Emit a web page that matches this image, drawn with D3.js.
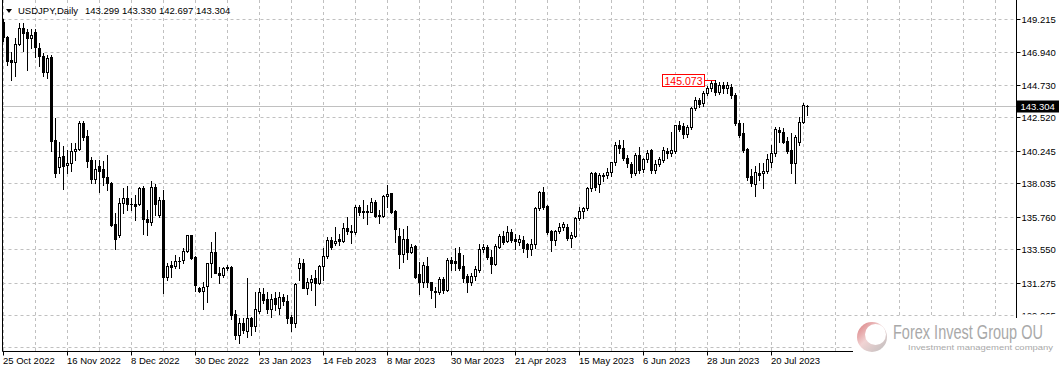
<!DOCTYPE html>
<html><head><meta charset="utf-8">
<script src="https://cdn.jsdelivr.net/npm/d3@7"></script>
<style>
html,body{margin:0;padding:0;background:#fff;}
svg{display:block;font-family:"Liberation Sans",Arial,sans-serif;}
</style></head><body>
<svg id="chart" width="1064" height="372"></svg>
<script>
const symbol = "USDJPY,Daily";
const lastBar = ["143.299","143.330","142.697","143.304"];
const currentPrice = 143.304;
const markedBar = 178;

const opens = [
149.0,147.95,146.4,146.25,147.48,148.57,148.3,147.9,148.3,147.25,
146.68,145.62,146.6,140.97,139.11,139.88,139.25,139.38,140.22,140.34,
142.15,141.24,139.61,138.34,139.2,138.98,138.47,138.07,135.26,134.49,
136.66,137.0,136.6,136.62,136.6,137.68,135.6,135.42,137.75,135.87,
136.89,131.67,132.46,132.4,132.72,132.81,133.44,134.49,133.03,130.88,
130.72,131.04,132.58,133.37,131.94,131.81,132.35,132.35,129.11,127.68,
128.54,128.0,128.84,128.34,129.36,130.5,130.16,129.48,130.24,129.52,
130.31,130.02,128.95,128.54,132.28,132.58,130.92,131.29,131.56,131.22,
132.4,133.08,134.17,133.94,134.24,134.12,135.0,134.78,134.69,136.43,
136.1,136.14,136.09,136.73,135.9,135.82,137.15,137.34,136.14,134.44,
133.2,134.22,133.37,133.76,131.85,131.29,132.4,131.29,130.7,130.6,
131.51,130.77,132.81,132.74,133.26,132.4,131.72,131.29,131.72,132.12,
133.53,133.67,133.03,132.51,133.71,134.44,134.1,134.73,134.24,134.01,
134.17,133.87,133.55,133.87,136.32,137.45,136.48,134.8,134.17,134.8,
135.03,135.03,134.28,134.44,135.63,136.14,136.32,137.68,138.71,137.98,
138.59,138.59,138.81,139.45,140.6,140.41,139.77,139.34,138.71,139.95,
139.0,139.68,140.29,138.93,139.34,139.61,140.24,140.1,140.24,141.99,
141.9,141.35,141.87,143.13,143.69,143.5,144.15,144.49,144.83,144.26,
144.71,144.49,144.55,144.03,142.11,141.42,140.36,138.52,137.98,138.71,
138.71,138.86,139.5,140.06,141.65,141.53,140.9,140.29,139.38,140.85,
142.22,143.299];

const highs = [
149.2,148.05,146.98,147.9,148.9,148.9,148.5,148.5,148.5,147.6,
146.87,146.75,146.75,142.5,140.85,140.58,140.29,140.79,140.79,142.28,
142.28,141.65,139.83,139.61,139.61,139.54,139.95,138.1,135.98,137.0,
137.68,137.84,137.0,137.23,137.8,137.84,136.21,138.18,137.96,137.12,
137.57,132.58,132.76,133.15,133.03,133.6,134.49,134.5,133.1,130.95,
131.33,132.6,134.05,134.73,132.35,132.35,132.46,132.4,129.4,128.84,
128.84,131.6,128.95,130.6,130.92,130.88,130.61,130.5,130.61,130.65,
130.47,130.42,129.06,131.22,132.92,132.88,131.56,131.78,132.12,132.46,
133.6,134.39,134.35,135.07,134.55,135.3,135.75,135.19,136.55,136.55,
136.88,136.55,137.05,136.89,136.21,137.23,137.91,137.38,136.21,135.0,
134.89,135.12,133.87,133.8,132.65,132.65,133.03,131.33,130.99,131.67,
131.67,132.92,132.99,133.6,133.71,133.15,131.85,131.94,132.4,133.87,
133.87,133.83,133.48,133.87,134.58,134.78,135.12,134.89,134.55,134.51,
134.44,133.94,134.22,136.39,137.52,137.79,136.55,134.85,134.85,135.35,
135.41,135.26,134.73,135.75,136.39,136.43,137.75,138.77,138.77,138.75,
138.7,139.05,139.49,140.85,140.97,140.97,139.95,139.49,140.06,140.47,
139.75,140.29,140.35,139.61,139.83,140.47,140.41,141.5,142.0,142.25,
142.1,142.0,143.2,143.9,143.8,144.3,144.65,145.0,145.073,144.9,
144.9,144.9,144.75,144.2,142.3,142.1,140.4,138.98,139.2,139.38,
139.42,140.02,140.63,141.87,141.87,141.76,141.2,141.42,141.31,142.56,
143.51,143.33];

const lows = [
147.7,146.1,145.05,145.35,147.45,147.0,145.75,147.2,146.65,146.0,
145.33,145.17,140.2,138.47,138.75,137.64,138.71,138.88,139.61,140.29,
140.97,139.15,138.02,138.02,137.45,137.91,137.57,135.12,133.55,134.39,
135.98,136.21,136.2,135.53,136.55,134.58,134.51,135.19,135.87,135.75,
130.54,131.44,131.67,132.24,132.24,132.58,133.37,132.85,130.72,130.65,
129.45,129.97,131.67,131.9,131.26,131.67,132.1,128.77,127.41,127.18,
127.82,127.55,127.7,127.95,129.2,129.86,129.18,128.95,129.41,129.14,
129.74,128.5,127.97,128.27,131.44,130.88,130.49,130.77,129.74,131.2,
131.44,132.92,133.55,133.8,133.82,134.0,134.6,133.98,134.6,135.87,
135.68,135.24,136.05,135.75,135.34,135.75,136.43,135.98,134.05,132.25,
132.7,132.9,133.26,131.56,130.49,131.0,130.95,130.2,129.59,130.5,
130.56,130.72,132.12,132.12,132.12,131.33,130.61,131.1,131.44,132.0,
133.37,132.9,131.94,132.46,133.6,133.9,134.0,134.0,133.53,133.8,
133.37,132.99,133.15,133.6,136.2,136.25,134.6,133.44,133.83,134.62,
134.85,134.17,133.71,134.35,135.5,135.64,136.2,137.5,137.6,137.41,
138.18,138.4,138.5,139.3,140.1,139.6,139.15,138.45,138.6,138.71,
138.8,139.5,138.72,138.7,139.2,139.5,139.75,139.9,140.1,141.6,
141.1,141.2,141.7,143.0,143.2,143.3,144.0,144.3,144.0,144.1,
144.2,144.2,143.8,142.0,141.2,140.17,138.25,137.84,137.18,138.25,
137.68,138.7,139.1,139.9,140.85,140.74,140.1,138.75,138.02,140.63,
142.1,142.697];

const closes = [
147.95,146.35,146.25,147.48,148.57,148.25,147.9,148.1,147.3,146.68,
145.62,146.53,140.92,138.75,139.84,139.22,139.43,140.22,140.36,142.15,
141.19,139.56,138.34,139.0,138.88,138.43,138.02,135.19,134.22,136.66,
137.0,136.62,136.62,136.48,137.68,135.58,135.42,137.75,136.6,136.89,
131.67,132.42,132.31,132.72,132.76,133.44,134.49,132.96,131.09,130.72,
130.99,132.58,133.37,131.94,131.81,132.24,132.24,129.07,127.7,128.54,
128.04,128.84,128.34,129.45,130.61,130.09,129.48,130.16,129.79,130.31,
130.04,128.88,128.5,131.18,132.58,130.92,131.29,131.51,131.27,132.4,
133.08,134.17,133.67,134.1,134.12,134.96,134.78,134.69,136.39,136.07,
136.14,136.1,136.73,135.78,135.79,137.18,137.29,136.09,134.91,133.2,
134.22,133.33,133.71,131.67,131.29,132.46,131.33,130.77,130.65,131.49,
130.77,132.81,132.58,132.62,132.24,131.6,131.29,131.72,132.17,133.53,
133.67,133.03,132.51,133.76,134.44,134.05,134.69,134.17,134.1,134.22,
133.64,133.55,133.87,136.32,137.45,136.39,134.69,134.17,134.78,135.03,
135.24,134.28,134.51,135.68,136.14,136.37,137.68,138.71,137.79,138.59,
138.55,138.81,139.45,140.63,140.45,139.77,139.39,138.71,139.95,138.93,
139.65,140.11,138.93,139.34,139.65,140.29,140.06,140.3,141.99,141.75,
141.4,141.87,143.13,143.69,143.42,144.15,144.49,144.83,144.26,144.71,
144.49,144.71,144.03,142.11,141.31,140.29,138.47,138.02,138.77,138.59,
138.86,139.66,140.06,141.7,141.49,140.85,140.24,139.38,141.15,142.22,
143.35,143.304];

const priceTicks = [149.215,146.940,144.730,142.520,140.245,138.035,135.760,133.550,131.275,129.065];
const priceTickLabels = ["149.215","146.940","144.730","142.520","140.245","138.035","135.760","133.550","131.275","129.065"];
const extraGridPrice = [126.855];
const dateLabels = ["25 Oct 2022","16 Nov 2022","8 Dec 2022","30 Dec 2022","23 Jan 2023","14 Feb 2023","8 Mar 2023","30 Mar 2023","21 Apr 2023","15 May 2023","6 Jun 2023","28 Jun 2023","20 Jul 2023"];
const dateLabelBars = [0,16,32,48,64,80,96,112,128,144,160,176,192];

const N = opens.length;
const bars = d3.range(N).map(i => ({i, o: opens[i], h: highs[i], l: lows[i], c: closes[i]}));

const svg = d3.select("#chart");
const W = 1064, H = 372;
const plotLeft = 2.5, plotRight = 1016.5, plotBottom = 351.5;

const x = d3.scaleLinear().domain([0, N - 1]).range([3, 3 + 4 * (N - 1)]);
const y = d3.scaleLinear().domain([129.065, 149.215]).range([315, 18.8]);

svg.append("rect").attr("width", W).attr("height", H).attr("fill", "#fff");

// vertical grid every 8 bars
const gridBars = d3.range(0, 260, 8).filter(b => x(b) < plotRight - 2);
svg.append("g").selectAll("line").data(gridBars).join("line")
  .attr("x1", d => Math.round(x(d)) + 0.5).attr("x2", d => Math.round(x(d)) + 0.5)
  .attr("y1", 0).attr("y2", plotBottom - 0.5)
  .attr("stroke", "#c0c0c0").attr("stroke-width", 1).attr("stroke-dasharray", "3,3");

// horizontal grid
svg.append("g").selectAll("line").data(priceTicks.concat(extraGridPrice)).join("line")
  .attr("x1", plotLeft).attr("x2", plotRight)
  .attr("y1", d => Math.round(y(d)) + 0.5).attr("y2", d => Math.round(y(d)) + 0.5)
  .attr("stroke", "#c0c0c0").attr("stroke-width", 1).attr("stroke-dasharray", "3,3");

// current price line
svg.append("line")
  .attr("x1", plotLeft).attr("x2", plotRight)
  .attr("y1", Math.round(y(currentPrice)) + 0.5).attr("y2", Math.round(y(currentPrice)) + 0.5)
  .attr("stroke", "#c0c0c0").attr("stroke-width", 1);

// candles
const cg = svg.append("g");
bars.forEach(b => {
  const px = Math.round(x(b.i));
  const yh = Math.round(y(Math.max(b.h, b.o, b.c)));
  const yl = Math.round(y(Math.min(b.l, b.o, b.c)));
  const yt = Math.round(y(Math.max(b.o, b.c)));
  const yb = Math.round(y(Math.min(b.o, b.c)));
  cg.append("rect").attr("x", px).attr("y", yh).attr("width", 1).attr("height", Math.max(1, yl - yh + 1)).attr("fill", "#000");
  cg.append("rect").attr("x", px - 1).attr("y", yt).attr("width", 3).attr("height", Math.max(1, yb - yt + 1)).attr("fill", "#000");
  if (b.c > b.o && yb - yt - 1 > 0) {
    cg.append("rect").attr("x", px).attr("y", yt + 1).attr("width", 1).attr("height", yb - yt - 1).attr("fill", "#fff");
  }
});

// high marker label
const markHigh = highs[markedBar];
const hy = Math.round(y(markHigh)) + 0.5;
const hx = Math.round(x(markedBar));
const mk = svg.append("g");
mk.append("line").attr("x1", hx - 10).attr("x2", hx).attr("y1", hy).attr("y2", hy).attr("stroke", "#ff0000");
mk.append("rect").attr("x", hx - 52.5).attr("y", hy - 6).attr("width", 42).attr("height", 12)
  .attr("fill", "#fff").attr("stroke", "#ff0000").attr("stroke-width", 1);
mk.append("text").attr("x", hx - 31.5).attr("y", hy + 4).attr("text-anchor", "middle")
  .attr("font-size", "10.5px").attr("fill", "#ff0000").text(markHigh.toFixed(3));

// frame: left border, right axis, bottom axis
svg.append("line").attr("x1", plotLeft).attr("x2", plotLeft).attr("y1", 0).attr("y2", plotBottom).attr("stroke", "#000");
svg.append("line").attr("x1", plotRight).attr("x2", plotRight).attr("y1", 0).attr("y2", plotBottom).attr("stroke", "#000");
svg.append("line").attr("x1", plotLeft).attr("x2", plotRight).attr("y1", plotBottom).attr("y2", plotBottom).attr("stroke", "#000");

// right axis ticks + labels
const ra = svg.append("g");
ra.selectAll("line").data(priceTicks).join("line")
  .attr("x1", plotRight).attr("x2", plotRight + 4)
  .attr("y1", d => Math.round(y(d)) + 0.5).attr("y2", d => Math.round(y(d)) + 0.5)
  .attr("stroke", "#000");
ra.selectAll("text").data(priceTicks).join("text")
  .attr("x", plotRight + 5).attr("y", d => Math.round(y(d)) + 3.5)
  .attr("font-size", "9.5px").attr("fill", "#000")
  .text((d, k) => priceTickLabels[k]);

// current price box
const cy = Math.round(y(currentPrice)) + 0.5;
svg.append("rect").attr("x", plotRight + 0.5).attr("y", cy - 6).attr("width", 42).attr("height", 12).attr("fill", "#000");
svg.append("text").attr("x", plotRight + 4).attr("y", cy + 3.5).attr("font-size", "9.5px").attr("fill", "#fff").text(currentPrice.toFixed(3));

// bottom axis ticks + labels
const ba = svg.append("g");
ba.selectAll("line").data(dateLabelBars).join("line")
  .attr("x1", d => Math.round(x(d)) + 0.5).attr("x2", d => Math.round(x(d)) + 0.5)
  .attr("y1", plotBottom).attr("y2", plotBottom + 4)
  .attr("stroke", "#000");
ba.selectAll("text").data(dateLabelBars).join("text")
  .attr("x", d => Math.round(x(d))).attr("y", 364)
  .attr("font-size", "9.5px").attr("fill", "#000")
  .text((d, k) => dateLabels[k]);

// title
const tg = svg.append("g");
tg.append("path").attr("d", "M6,9 L12,9 L9,13 Z").attr("fill", "#000");
tg.append("text").attr("x", 18).attr("y", 14).attr("font-size", "9.5px").attr("fill", "#000").text(symbol);
tg.append("text").attr("x", 85).attr("y", 14).attr("font-size", "9.5px").attr("fill", "#000").text(lastBar.join(" "));

// watermark
const wm = svg.append("g");
wm.append("rect").attr("x", 853).attr("y", 318).attr("width", 211).attr("height", 54).attr("fill", "#fff");
wm.append("rect").attr("x", 1017).attr("y", 314.5).attr("width", 47).attr("height", 8).attr("fill", "#fff");
const defs = svg.append("defs");
const lg = defs.append("linearGradient").attr("id", "lg").attr("x1", "0").attr("y1", "0").attr("x2", "1").attr("y2", "1");
lg.append("stop").attr("offset", "0").attr("stop-color", "#d9777a");
lg.append("stop").attr("offset", "0.45").attr("stop-color", "#f1d3d3");
lg.append("stop").attr("offset", "1").attr("stop-color", "#bdbdbd");
wm.append("circle").attr("cx", 872).attr("cy", 337).attr("r", 15).attr("fill", "url(#lg)");
wm.append("circle").attr("cx", 875.5).attr("cy", 334.5).attr("r", 10.5).attr("fill", "#fff");
wm.append("text").attr("transform", "translate(893,339) scale(1,1.45)")
  .attr("font-size", "14.5px").attr("fill", "#a9a9a9")
  .attr("textLength", 150).attr("lengthAdjust", "spacingAndGlyphs").text("Forex Invest Group OU");
wm.append("text").attr("x", 908).attr("y", 349.5).attr("font-size", "8px").attr("fill", "#a9a9a9")
  .attr("textLength", 145).attr("lengthAdjust", "spacingAndGlyphs").text("Investment management company");
</script>
</body></html>
